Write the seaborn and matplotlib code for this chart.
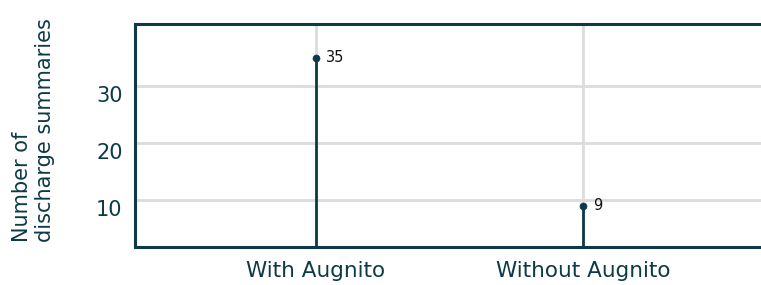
import pandas as pd
import numpy as np
import matplotlib.pyplot as plt
import seaborn as sns

categorias = ['With Augnito', 'Without Augnito']
resumenes = [35, 9]

df = pd.DataFrame({'Grupo': categorias, 'Resumenes': resumenes})

color = '#0d3a48'
sns.set_style('white')
plt.rcParams['font.family'] = ['DejaVu Sans']

fig = plt.figure(figsize=(7.61, 2.85), dpi=100)
ax = fig.add_axes([0.1774, 0.1333, 0.8226, 0.7825])

x = np.arange(len(categorias))
ax.vlines(x, 0, df['Resumenes'], color=color, linewidth=2, zorder=3)
sns.scatterplot(x=x, y='Resumenes', data=df, color=color, s=26,
                edgecolor=color, zorder=4, ax=ax, legend=False)
for xi, v in zip(x, resumenes):
    ax.annotate(str(v), (xi, v), xytext=(7, 0), textcoords='offset points',
                va='center', ha='left', fontsize=10.5, color='#111111')

ax.set_xticks(x)
ax.set_xticklabels(categorias, fontsize=15.5, color=color)
ax.set_yticks([10, 20, 30])
ax.tick_params(axis='y', labelsize=15, labelcolor=color, length=0, pad=9)
ax.tick_params(axis='x', length=0, pad=10)
for lab in ax.get_yticklabels():
    lab.set_verticalalignment('top')
ax.set_xlim(-0.678, 1.667)
ax.set_ylim(1.75, 40.9)
ax.grid(True, color='#dcdcdc', linewidth=2)
ax.set_axisbelow(True)
for side in ['left', 'top', 'bottom']:
    ax.spines[side].set_color(color)
    ax.spines[side].set_linewidth(2.2)
ax.spines['right'].set_visible(False)
ax.set_xlabel('')
ax.set_ylabel('Number of\ndischarge summaries', fontsize=15, color=color,
              multialignment='left')
ax.yaxis.set_label_coords(-0.128, 0.525)

fig.savefig('out.png', dpi=100)
